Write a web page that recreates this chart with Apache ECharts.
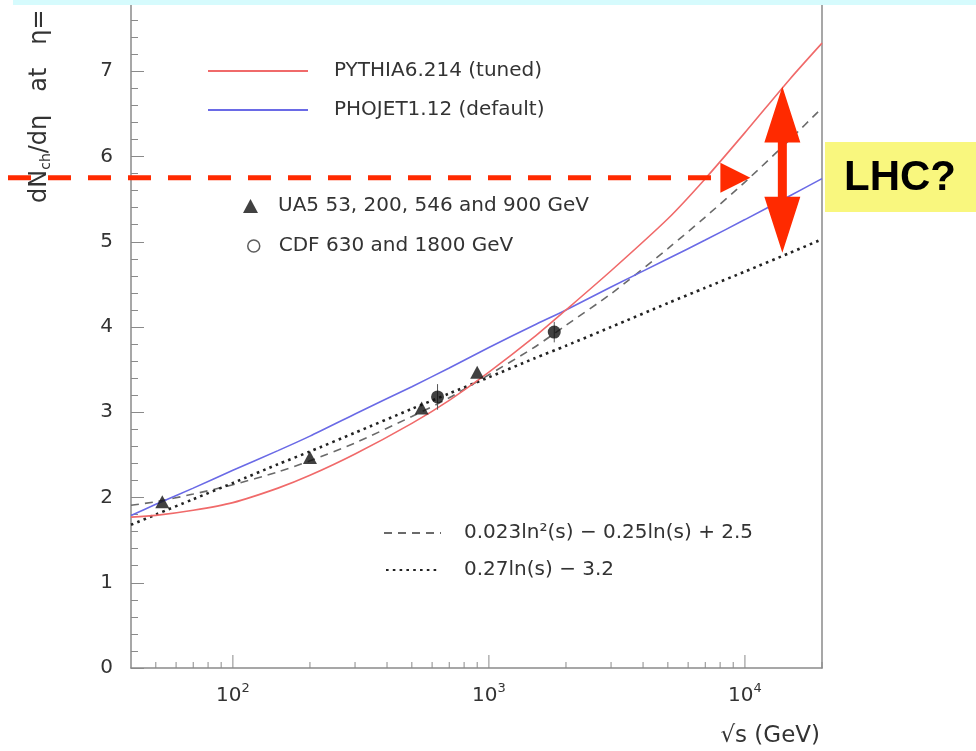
<!DOCTYPE html>
<html>
<head>
<meta charset="utf-8">
<script src="https://cdn.jsdelivr.net/npm/echarts@6/dist/echarts.min.js"></script>
<style>
  html, body { margin: 0; padding: 0; background: #ffffff; overflow: hidden; }
  /* the frame continues a little above the visible page */
  #chart { position: absolute; left: 0; top: -14px; width: 976px; height: 765px; }
</style>
</head>
<body>
<div id="chart"></div>
<script>
// Centre-of-mass energies (GeV) at which the curves are sampled
const energies = [40, 50, 70, 100, 150, 200, 300, 500, 700, 1000, 1500, 2000, 3000, 5000, 7000, 10000, 15000, 20000];

// Model predictions of dNch/deta at eta = 0
const pythia = [1.77, 1.79, 1.85, 1.94, 2.11, 2.26, 2.51, 2.87, 3.14, 3.47, 3.88, 4.20, 4.66, 5.27, 5.74, 6.28, 6.91, 7.33];
const phojet = [1.79, 1.92, 2.11, 2.32, 2.55, 2.72, 2.98, 3.30, 3.52, 3.76, 4.02, 4.20, 4.47, 4.80, 5.02, 5.26, 5.54, 5.74];

// Fits to the measurements
const fitQuad = [1.91, 1.95, 2.04, 2.15, 2.30, 2.43, 2.64, 2.95, 3.17, 3.44, 3.76, 4.02, 4.39, 4.92, 5.29, 5.70, 6.20, 6.57];
const fitLin  = [1.68, 1.80, 1.98, 2.17, 2.39, 2.54, 2.76, 3.04, 3.22, 3.41, 3.63, 3.78, 4.00, 4.28, 4.46, 4.65, 4.87, 5.03];

// Measurements
const ua5Energy = [53, 200, 546, 900];
const ua5Mult   = [1.95, 2.47, 3.05, 3.47];
const cdfEnergy = [630, 1800];
const cdfMult   = [3.18, 3.94];
const cdfErr    = [0.15, 0.12];

// Axis ticks
const xMajorTicks = [100, 1000, 10000];
const xMinorTicks = [50, 60, 70, 80, 90, 200, 300, 400, 500, 600, 700, 800, 900,
                     2000, 3000, 4000, 5000, 6000, 7000, 8000, 9000, 20000];

// LHC annotation
const lhcEnergy = 14000;
const lhcHigh = 6.82;
const lhcLow = 4.87;
const lhcLevel = 5.75;
const lhcLevelEnergy = 10500;

const names = {
  pythia: 'PYTHIA6.214 (tuned)',
  phojet: 'PHOJET1.12 (default)',
  ua5: 'UA5 53, 200, 546 and 900 GeV',
  cdf: 'CDF 630 and 1800 GeV',
  quad: '0.023ln\u00B2(s) \u2212 0.25ln(s) + 2.5',
  lin: '0.27ln(s) \u2212 3.2'
};

const FONT = '"DejaVu Sans", sans-serif';
const TEXT = '#333333';
const AXIS = '#8a8a8a';
const ARROW = '#ff2a00';
const OFF = 14; // offset of the chart canvas above the page top

const zip = (xs, ys) => xs.map((x, i) => [x, ys[i]]);

const chart = echarts.init(document.getElementById('chart'), null, { renderer: 'canvas' });

function legendBox(name, left, topPx, w, h, pad, extra) {
  return Object.assign({
    show: true,
    orient: 'horizontal',
    left: left, top: topPx + OFF,
    padding: 0,
    itemWidth: w, itemHeight: h,
    selectedMode: false,
    data: [name],
    textStyle: { fontFamily: FONT, fontSize: 20, color: TEXT, padding: [0, 0, 0, pad] }
  }, extra || {});
}
const noSymbol = { itemStyle: { opacity: 0 } };

const option = {
  animation: false,
  backgroundColor: '#ffffff',
  grid: { left: 131, right: 154, top: 0, bottom: 83, containLabel: false, outerBoundsMode: 'none' },
  xAxis: {
    type: 'log',
    logBase: 10,
    min: 40,
    max: 20000,
    axisLine: { show: true, lineStyle: { color: AXIS, width: 1.5 } },
    axisTick: { show: false },
    splitLine: { show: false },
    minorTick: { show: false },
    axisLabel: {
      show: true,
      margin: 10,
      showMinLabel: false,
      showMaxLabel: false,
      formatter: function (v) {
        const e = Math.log10(v);
        const n = Math.round(e);
        if (Math.abs(e - n) < 1e-6 && n >= 2 && n <= 4) return '{b|10}{s|' + n + '}';
        return '';
      },
      rich: {
        b: { fontFamily: FONT, fontSize: 20, color: TEXT, padding: [8, 0, 0, 0] },
        s: { fontFamily: FONT, fontSize: 13, color: TEXT, padding: [0, 0, 6, 0] }
      }
    }
  },
  yAxis: [{
    type: 'value',
    min: 0, max: 8, interval: 1,
    axisLine: { show: true, lineStyle: { color: AXIS, width: 1.5 } },
    axisTick: { show: true, inside: true, length: 13, lineStyle: { color: AXIS, width: 1 } },
    minorTick: { show: true, splitNumber: 5, length: 7, lineStyle: { color: AXIS, width: 1 } },
    splitLine: { show: false },
    axisLabel: { margin: 18, fontFamily: FONT, fontSize: 20, color: TEXT }
  }, {
    type: 'value',
    position: 'right',
    min: 0, max: 8, interval: 1,
    axisLine: { show: true, lineStyle: { color: AXIS, width: 1.5 } },
    axisTick: { show: false },
    axisLabel: { show: false },
    splitLine: { show: false }
  }],
  legend: [
    legendBox(names.pythia, 207, 61, 100, 14, 21, noSymbol),
    legendBox(names.phojet, 207, 100, 100, 14, 21, noSymbol),
    legendBox(names.ua5, 243, 196, 15, 14, 15),
    legendBox(names.cdf, 247, 236, 12, 12, 14, {
      data: [{ name: names.cdf, icon: 'circle',
               itemStyle: { color: '#ffffff', borderColor: '#333333', borderWidth: 1.5 } }]
    }),
    legendBox(names.quad, 383, 523, 57, 14, 18, noSymbol),
    legendBox(names.lin, 385, 560, 54, 14, 19, noSymbol)
  ],
  series: [
    {
      name: names.quad, type: 'line', data: zip(energies, fitQuad),
      symbol: 'none', smooth: 0.25, z: 3,
      itemStyle: { color: '#6a6a6a' },
      lineStyle: { color: '#6a6a6a', width: 1.6, type: [8, 6] }
    },
    {
      name: names.lin, type: 'line', data: zip(energies, fitLin),
      symbol: 'none', smooth: 0.25, z: 3,
      itemStyle: { color: '#222222' },
      lineStyle: { color: '#222222', width: 2.6, type: [2.6, 4.2], cap: 'butt' }
    },
    {
      name: names.phojet, type: 'line', data: zip(energies, phojet),
      symbol: 'none', smooth: 0.25, z: 4,
      itemStyle: { color: '#6a6ae6' },
      lineStyle: { color: '#6a6ae6', width: 1.6 }
    },
    {
      name: names.pythia, type: 'line', data: zip(energies, pythia),
      symbol: 'none', smooth: 0.25, z: 4,
      itemStyle: { color: '#f06a6a' },
      lineStyle: { color: '#f06a6a', width: 1.6 }
    },
    {
      name: 'cdf-errors', type: 'custom', z: 5,
      data: cdfEnergy.map((x, i) => [x, cdfMult[i], cdfErr[i]]),
      renderItem: function (params, api) {
        const lo = api.coord([api.value(0), api.value(1) - api.value(2)]);
        const hi = api.coord([api.value(0), api.value(1) + api.value(2)]);
        return { type: 'line', shape: { x1: lo[0], y1: lo[1], x2: hi[0], y2: hi[1] },
                 style: { stroke: '#555555', lineWidth: 1 } };
      }
    },
    {
      name: names.ua5, type: 'scatter', data: zip(ua5Energy, ua5Mult),
      symbol: 'triangle', symbolSize: [14, 13], z: 6,
      itemStyle: { color: '#111111' }
    },
    {
      name: names.cdf, type: 'scatter', data: zip(cdfEnergy, cdfMult),
      symbol: 'circle', symbolSize: 13, z: 6,
      itemStyle: { color: '#111111' }
    },
    {
      name: 'x-ticks', type: 'custom', z: 7, silent: true,
      data: xMajorTicks.map(v => [v, 1]).concat(xMinorTicks.map(v => [v, 0])),
      renderItem: function (params, api) {
        const p = api.coord([api.value(0), 0]);
        const len = api.value(1) ? 13 : 6;
        return { type: 'line', shape: { x1: p[0], y1: p[1], x2: p[0], y2: p[1] - len },
                 style: { stroke: AXIS, lineWidth: 1 } };
      }
    }
  ]
};

chart.setOption(option);

// Annotation shapes placed from data coordinates
const toPx = (x, y) => chart.convertToPixel({ gridIndex: 0 }, [x, y]);
const levelPx = toPx(lhcLevelEnergy, lhcLevel);
const highPx = toPx(lhcEnergy, lhcHigh);
const lowPx = toPx(lhcEnergy, lhcLow);
const cx = highPx[0];
const headL = 56, headW = 18, shaftW = 4.5;

chart.setOption({
  graphic: [
    { type: 'rect', left: 13, top: OFF, shape: { width: 963, height: 5 }, style: { fill: '#d6fbfd' }, z: 100 },
    {
      type: 'text', x: 40, y: 203 + OFF, rotation: Math.PI / 2, z: 100,
      style: {
        text: '{a|dN}{b|ch}{a|/d\u03B7   at   \u03B7=}',
        align: 'left', verticalAlign: 'middle',
        rich: {
          a: { fontFamily: FONT, fontSize: 24, fill: TEXT },
          b: { fontFamily: FONT, fontSize: 14, fill: TEXT, padding: [12, 0, 0, 0] }
        }
      }
    },
    {
      type: 'text', z: 100,
      style: { text: '\u221As (GeV)', x: 820, y: 736 + OFF, align: 'right', verticalAlign: 'middle',
               fontFamily: FONT, fontSize: 23, fill: TEXT }
    },
    {
      type: 'line', z: 100,
      shape: { x1: 8, y1: levelPx[1], x2: levelPx[0] - 30, y2: levelPx[1] },
      style: { stroke: ARROW, lineWidth: 5, lineDash: [23, 17] }
    },
    {
      type: 'polygon', z: 100,
      shape: { points: [[levelPx[0], levelPx[1]], [levelPx[0] - 30, levelPx[1] - 15], [levelPx[0] - 30, levelPx[1] + 15]] },
      style: { fill: ARROW }
    },
    {
      type: 'polygon', z: 100,
      shape: { points: [
        [cx, highPx[1]], [cx + headW, highPx[1] + headL], [cx + shaftW, highPx[1] + headL],
        [cx + shaftW, lowPx[1] - headL], [cx + headW, lowPx[1] - headL], [cx, lowPx[1]],
        [cx - headW, lowPx[1] - headL], [cx - shaftW, lowPx[1] - headL],
        [cx - shaftW, highPx[1] + headL], [cx - headW, highPx[1] + headL]
      ] },
      style: { fill: ARROW }
    },
    { type: 'rect', left: 825, top: 142 + OFF, shape: { width: 151, height: 70 }, style: { fill: '#f9f77e' }, z: 100 },
    {
      type: 'text', z: 101,
      style: { text: 'LHC?', x: 900, y: 178 + OFF, align: 'center', verticalAlign: 'middle',
               fontFamily: '"Liberation Sans", Arial, sans-serif', fontWeight: 'bold', fontSize: 42, fill: '#000000' }
    }
  ]
});
</script>
</body>
</html>
